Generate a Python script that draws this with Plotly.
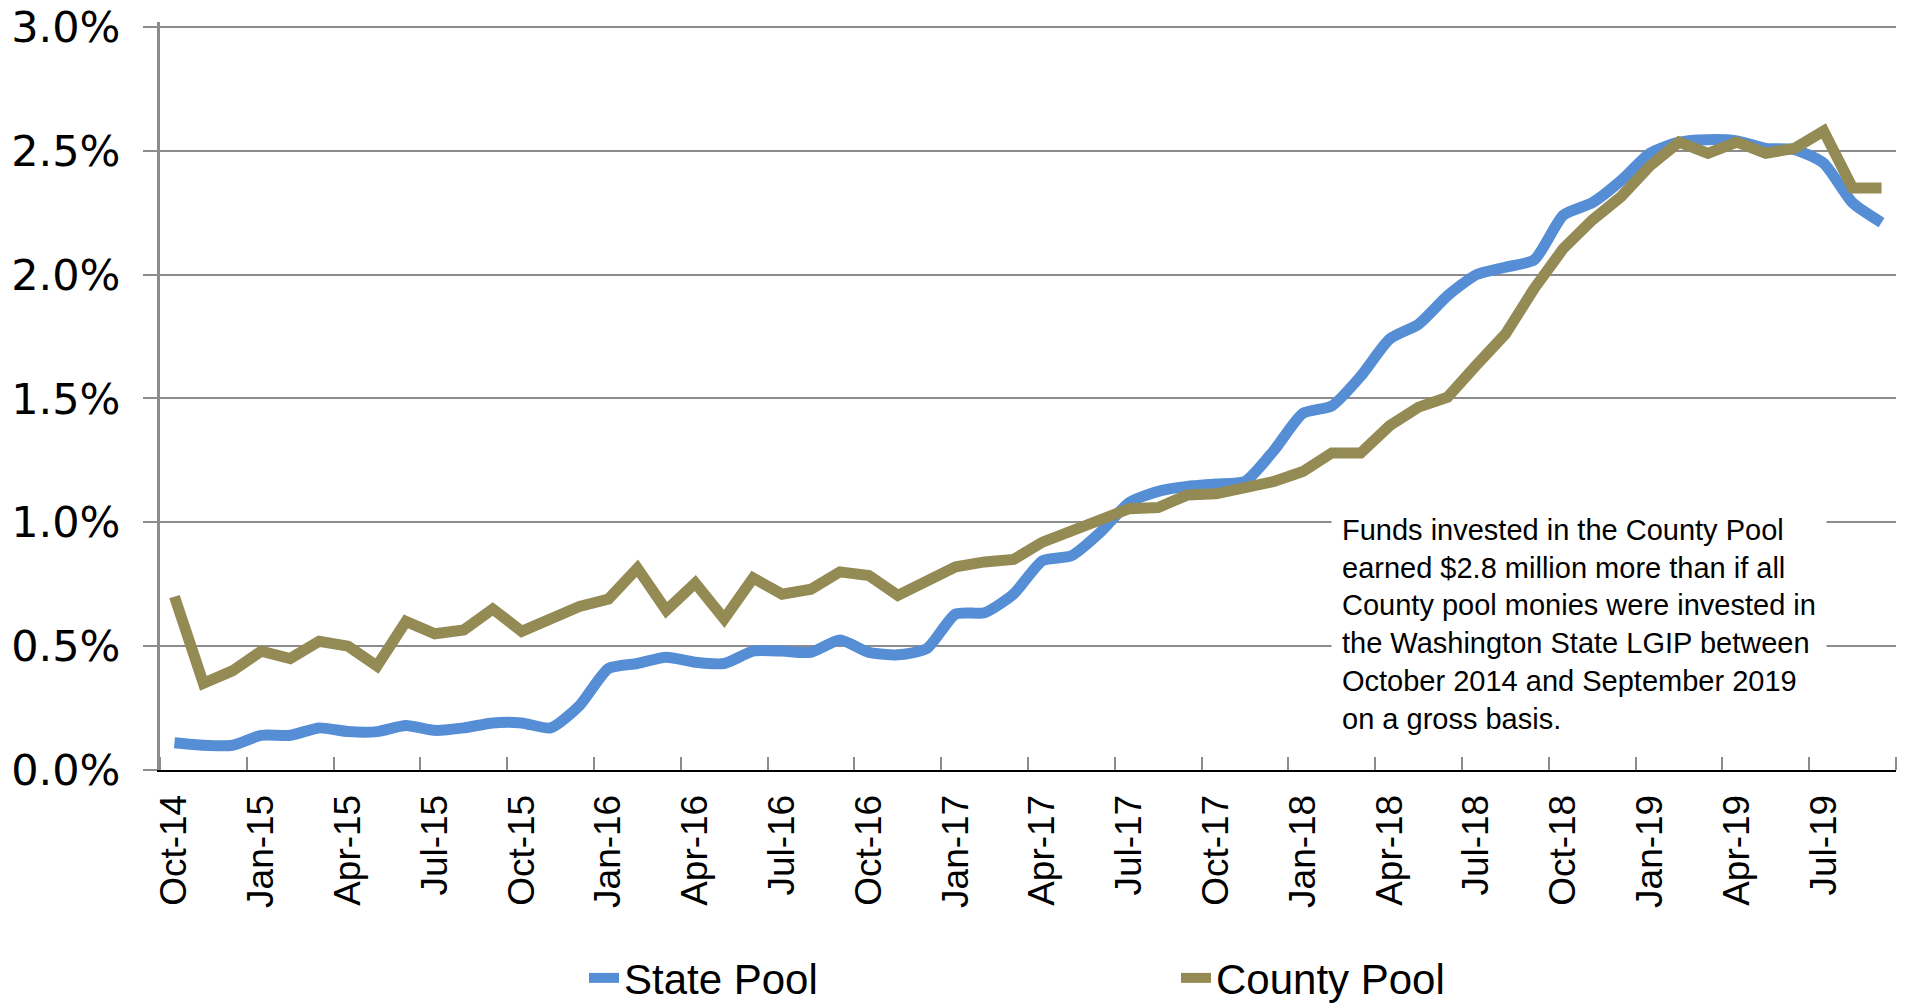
import pandas as pd
import plotly.graph_objects as go

months = pd.date_range("2014-10-01", periods=60, freq="MS").strftime("%b-%y").tolist()

state_pool = [
    0.11, 0.10, 0.10, 0.14, 0.14, 0.17, 0.155, 0.155, 0.18, 0.16,
    0.17, 0.19, 0.19, 0.17, 0.26, 0.41, 0.43, 0.455, 0.435, 0.43,
    0.48, 0.48, 0.475, 0.525, 0.475, 0.465, 0.49, 0.63, 0.635, 0.71,
    0.845, 0.865, 0.96, 1.08, 1.125, 1.145, 1.155, 1.165, 1.29, 1.44,
    1.47, 1.59, 1.74, 1.80, 1.915, 2.00, 2.03, 2.06, 2.24, 2.29,
    2.38, 2.49, 2.535, 2.545, 2.54, 2.51, 2.505, 2.45, 2.29, 2.21,
]

county_pool = [
    0.70, 0.35, 0.40, 0.48, 0.45, 0.52, 0.50, 0.42, 0.60, 0.55,
    0.565, 0.65, 0.56, 0.605, 0.66, 0.69, 0.815, 0.645, 0.755, 0.61,
    0.775, 0.71, 0.73, 0.80, 0.785, 0.705, 0.76, 0.82, 0.84, 0.85,
    0.92, 0.965, 1.005, 1.055, 1.06, 1.11, 1.115, 1.14, 1.165, 1.205,
    1.28, 1.28, 1.39, 1.465, 1.505, 1.635, 1.76, 1.945, 2.105, 2.22,
    2.315, 2.44, 2.535, 2.49, 2.535, 2.49, 2.51, 2.58, 2.35, 2.35,
]

y_ticks = [0.0, 0.5, 1.0, 1.5, 2.0, 2.5, 3.0]

note = (
    "Funds invested in the County Pool<br>"
    "earned $2.8 million more than if all<br>"
    "County pool monies were invested in<br>"
    "the Washington State LGIP between<br>"
    "October 2014 and September 2019<br>"
    "on a gross basis."
)

x = list(range(len(months)))
grid = "#8c8c8c"

fig = go.Figure()
fig.add_trace(go.Scatter(
    x=x, y=state_pool, name="State Pool", mode="lines",
    line=dict(color="#558ED5", width=11, shape="spline", smoothing=0.6),
))
fig.add_trace(go.Scatter(
    x=x, y=county_pool, name="County Pool", mode="lines",
    line=dict(color="#948A54", width=11),
))

# page body has an 8px margin, so the figure is a bit smaller than the window
fig.update_layout(
    width=1901,
    height=997,
    margin=dict(l=152, r=13, t=14, b=235),
    plot_bgcolor="white",
    paper_bgcolor="white",
    font=dict(family="Liberation Sans, Arial, sans-serif", color="black"),
    showlegend=True,
    legend=dict(
        orientation="h",
        xref="container", yref="container",
        x=0.303, xanchor="left",
        y=0.027, yanchor="middle",
        font=dict(size=42),
        entrywidth=547,
        itemwidth=30,
    ),
    xaxis=dict(
        range=[-0.5, len(months) - 0.5],
        tickvals=x[::3],
        ticktext=months[::3],
        tickangle=-90,
        ticks="",
        ticklabelstandoff=8,
        tickfont=dict(size=37),
        showgrid=False,
        zeroline=False,
        showline=True,
        linecolor="black",
        linewidth=2,
        automargin=False,
        minor=dict(tick0=-0.5, dtick=3, ticks="inside", ticklen=13,
                   tickcolor=grid, tickwidth=2),
    ),
    yaxis=dict(
        range=[0, 3.02],
        tickvals=y_ticks,
        ticktext=[f"{v:.1f}%" for v in y_ticks],
        tickfont=dict(size=43, family="DejaVu Sans"),
        ticklabeloverflow="allow",
        ticks="outside",
        ticklen=14,
        tickcolor=grid,
        tickwidth=2,
        ticklabelstandoff=14,
        showgrid=True,
        gridcolor=grid,
        gridwidth=2,
        zeroline=False,
        showline=True,
        linecolor=grid,
        linewidth=3,
        automargin=False,
    ),
)

fig.add_annotation(
    text=note,
    xref="paper", yref="paper",
    x=(1331 - 160) / 1736, y=(770 - 503) / 748,
    xanchor="left", yanchor="top",
    align="left",
    showarrow=False,
    bgcolor="white",
    borderpad=10,
    font=dict(size=29, color="black"),
)

fig.write_html("out.html")
